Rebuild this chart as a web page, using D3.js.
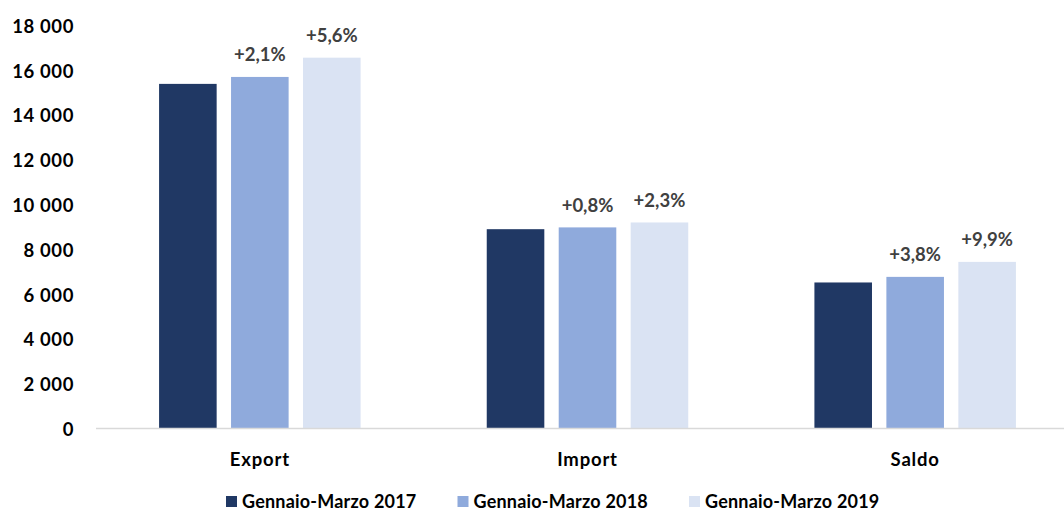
<!DOCTYPE html>
<html>
<head>
<meta charset="utf-8">
<script src="https://cdn.jsdelivr.net/npm/d3@7/dist/d3.min.js"></script>
<style>
  html, body { margin: 0; padding: 0; background: #fff; }
  svg { display: block; font-family: Lato, "Open Sans", sans-serif; font-weight: 700; }
</style>
</head>
<body>
<svg id="chart" width="1064" height="511"></svg>
<script>
// Trade flows, January–March, three years
const categories = ["Export", "Import", "Saldo"];
const seriesNames = ["Gennaio-Marzo 2017", "Gennaio-Marzo 2018", "Gennaio-Marzo 2019"];
const values2017 = [15370, 8880, 6500];
const values2018 = [15680, 8960, 6750];
const values2019 = [16540, 9180, 7420];
// year-on-year change shown above the 2018 and 2019 bars
const change2018 = ["+2,1%", "+0,8%", "+3,8%"];
const change2019 = ["+5,6%", "+2,3%", "+9,9%"];
const yTicks = [0, 2000, 4000, 6000, 8000, 10000, 12000, 14000, 16000, 18000];
const colors = ["#203864", "#8FAADC", "#DAE3F3"];

const seriesValues = [values2017, values2018, values2019];
const seriesLabels = [null, change2018, change2019];

const svg = d3.select("#chart");

const y = d3.scaleLinear().domain([0, 18000]).range([428, 25]);
const x0 = d3.scaleBand().domain(categories).range([96, 1079])
  .paddingInner(0.385).paddingOuter(0.1925);
const x1 = d3.scaleBand().domain(seriesNames).range([0, x0.bandwidth()]).paddingInner(0.2);

const fmt = v => d3.format(",")(v).replace(/,/g, " ");

// y axis labels (no line, no ticks)
const yAxis = svg.append("g")
  .attr("transform", "translate(74,0)")
  .call(d3.axisLeft(y).tickValues(yTicks).tickFormat(fmt).tickSize(0).tickPadding(0));
yAxis.select(".domain").remove();
yAxis.selectAll("text")
  .attr("fill", "#000")
  .attr("dy", "0.4em")
  .style("font-family", "Lato, 'Open Sans', sans-serif")
  .style("font-weight", 700)
  .style("font-size", "18.5px")
  .style("letter-spacing", "0.6px");

// bars
const groups = svg.append("g").selectAll("g")
  .data(categories)
  .join("g")
  .attr("transform", c => `translate(${x0(c)},0)`);

groups.selectAll("rect")
  .data((c, i) => seriesNames.map((s, j) => ({ s, j, v: seriesValues[j][i] })))
  .join("rect")
  .attr("x", d => x1(d.s))
  .attr("y", d => y(d.v))
  .attr("width", x1.bandwidth())
  .attr("height", d => y(0) - y(d.v))
  .attr("fill", d => colors[d.j]);

// change labels
groups.selectAll("text.chg")
  .data((c, i) => seriesNames.map((s, j) => ({ s, j, v: seriesValues[j][i], t: seriesLabels[j] ? seriesLabels[j][i] : null }))
    .filter(d => d.t))
  .join("text")
  .attr("class", "chg")
  .attr("x", d => x1(d.s) + x1.bandwidth() / 2)
  .attr("y", d => y(d.v) - 15.5)
  .attr("text-anchor", "middle")
  .attr("fill", "#404040")
  .style("font-size", "18.5px")
  .text(d => d.t);

// x axis baseline
svg.append("line")
  .attr("x1", 96).attr("x2", 1079)
  .attr("y1", y(0) + 0.5).attr("y2", y(0) + 0.5)
  .attr("stroke", "#D9D9D9")
  .attr("stroke-width", 1.5);

// category labels
const xAxis = svg.append("g")
  .attr("transform", `translate(0,${y(0)})`)
  .call(d3.axisBottom(x0).tickSize(0).tickPadding(0));
xAxis.select(".domain").remove();
xAxis.selectAll("text")
  .attr("y", 38)
  .attr("dy", null)
  .attr("fill", "#000")
  .style("font-family", "Lato, 'Open Sans', sans-serif")
  .style("font-weight", 700)
  .style("font-size", "18.5px")
  .style("letter-spacing", "0.8px");

// legend
const legend = svg.append("g").selectAll("g")
  .data(seriesNames)
  .join("g")
  .attr("transform", (d, i) => `translate(${226 + i * 231.5},496)`);
legend.append("rect")
  .attr("width", 11).attr("height", 11)
  .attr("fill", (d, i) => colors[i]);
legend.append("text")
  .attr("x", 16).attr("y", 11.5)
  .attr("fill", "#000")
  .style("font-size", "18px")
  .style("letter-spacing", "0.2px")
  .text(d => d);
</script>
</body>
</html>
